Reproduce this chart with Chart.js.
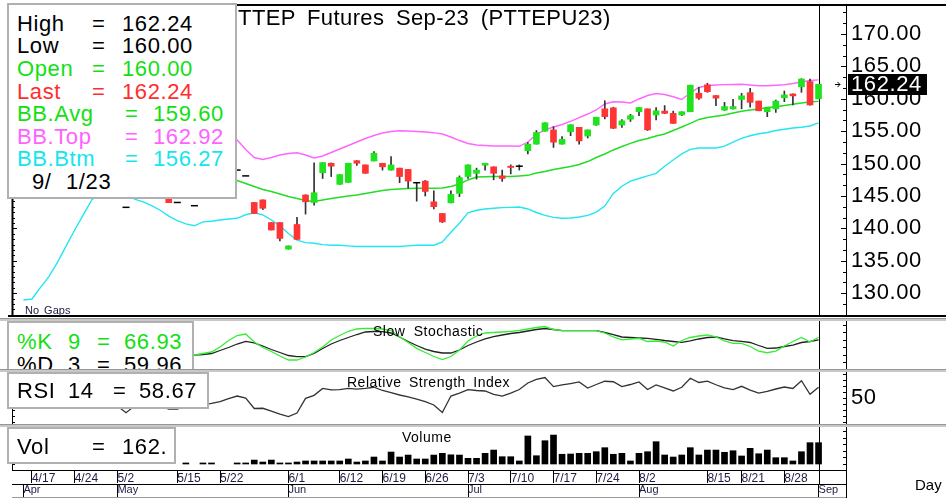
<!DOCTYPE html>
<html>
<head>
<meta charset="utf-8">
<script src="https://cdn.jsdelivr.net/npm/chart.js@4.4.1/dist/chart.umd.min.js"></script>
<style>
html,body{margin:0;padding:0;background:#fff;}
#root{position:relative;width:946px;height:498px;overflow:hidden;background:#fff;font-family:Arial,"Liberation Sans",sans-serif;color:#000;}
#root canvas{position:absolute;left:0;z-index:1;}
.ln{position:absolute;z-index:2;background:#000;}
.sep{position:absolute;left:0;width:946px;height:3px;z-index:2;background:#c8c8c8;border-top:1px solid #969696;box-sizing:border-box;}
.ttl{position:absolute;z-index:2;white-space:nowrap;}
.box{position:absolute;z-index:4;background:#fff;border:2px solid #b0b0b0;box-sizing:border-box;overflow:hidden;}
.box span{position:absolute;white-space:nowrap;font-size:22px;line-height:24px;letter-spacing:0.6px;}
.g{color:#12e012;} .r{color:#ff2e2e;} .p{color:#ff62ff;} .c{color:#12e6ee;} .k{color:#000;}
</style>
</head>
<body>
<div id="root">
  <canvas id="cMain" width="946" height="318" style="top:0"></canvas>
  <canvas id="cSto" width="946" height="48" style="top:321px"></canvas>
  <canvas id="cRsi" width="946" height="52" style="top:372px"></canvas>
  <canvas id="cVol" width="946" height="71" style="top:427px"></canvas>

  <div class="ln" style="left:8px;top:4px;width:938px;height:2px;"></div>
  <div class="ln" style="left:8px;top:315px;width:938px;height:2px;"></div>
  <div class="sep" style="top:318px;"></div>
  <div class="sep" style="top:369px;"></div>
  <div class="sep" style="top:424px;"></div>
  <div class="ln" style="left:846px;top:470px;width:1px;height:28px;"></div>
  <div class="ln" style="left:12px;top:497px;width:834px;height:1px;background:#9a9a9a;"></div>

  <div class="ttl" style="left:223px;top:6px;font-size:22px;line-height:24px;letter-spacing:0.4px;word-spacing:5px;">PTTEP Futures Sep-23 (PTTEPU23)</div>
  <div class="ttl" style="left:25px;top:304px;font-size:11px;line-height:13px;word-spacing:2px;color:#202040;">No Gaps</div>
  <div class="ttl" style="left:373px;top:323px;font-size:14px;line-height:16px;letter-spacing:0.5px;word-spacing:4px;">Slow Stochastic</div>
  <div class="ttl" style="left:347px;top:374px;font-size:14px;line-height:16px;letter-spacing:0.5px;word-spacing:3px;">Relative Strength Index</div>
  <div class="ttl" style="left:402px;top:429px;font-size:14px;line-height:16px;letter-spacing:0.5px;">Volume</div>
  <div class="ttl" style="left:915px;top:476px;font-size:15px;line-height:17px;">Day</div>

  <div class="box" style="left:7px;top:3px;width:230px;height:196px;">
    <span class="k" style="left:8px;top:6.6px">High</span><span class="k" style="left:83px;top:6.6px">=</span><span class="k" style="left:113px;top:6.6px">162.24</span>
    <span class="k" style="left:8px;top:29px">Low</span><span class="k" style="left:83px;top:29px">=</span><span class="k" style="left:113px;top:29px">160.00</span>
    <span class="g" style="left:8px;top:52.3px">Open</span><span class="g" style="left:83px;top:52.3px">=</span><span class="g" style="left:113px;top:52.3px">160.00</span>
    <span class="r" style="left:8px;top:75px">Last</span><span class="r" style="left:83px;top:75px">=</span><span class="r" style="left:113px;top:75px">162.24</span>
    <span class="g" style="left:8px;top:96.6px">BB.Avg</span><span class="g" style="left:116px;top:96.6px">=</span><span class="g" style="left:144px;top:96.6px">159.60</span>
    <span class="p" style="left:8px;top:120px">BB.Top</span><span class="p" style="left:116px;top:120px">=</span><span class="p" style="left:144px;top:120px">162.92</span>
    <span class="c" style="left:8px;top:141.6px">BB.Btm</span><span class="c" style="left:116px;top:141.6px">=</span><span class="c" style="left:144px;top:141.6px">156.27</span>
    <span class="k" style="left:23px;top:165px">9/</span><span class="k" style="left:57px;top:165px">1/23</span>
  </div>
  <div class="box" style="left:7px;top:321px;width:187px;height:48px;border-bottom:none;">
    <span class="g" style="left:8px;top:7px">%K</span><span class="g" style="left:59px;top:7px">9</span><span class="g" style="left:88px;top:7px">=</span><span class="g" style="left:115px;top:7px">66.93</span>
    <span class="k" style="left:8px;top:30.3px">%D</span><span class="k" style="left:59px;top:30.3px">3</span><span class="k" style="left:88px;top:30.3px">=</span><span class="k" style="left:115px;top:30.3px">59.96</span>
  </div>
  <div class="box" style="left:7px;top:372px;width:202px;height:37px;">
    <span class="k" style="left:8px;top:5.3px">RSI</span><span class="k" style="left:59px;top:5.3px">14</span><span class="k" style="left:104px;top:5.3px">=</span><span class="k" style="left:130px;top:5.3px">58.67</span>
  </div>
  <div class="box" style="left:7px;top:427px;width:169px;height:37px;">
    <span class="k" style="left:8px;top:6px">Vol</span><span class="k" style="left:83px;top:6px">=</span><span class="k" style="left:113px;top:6px">162.</span>
  </div>
</div>

<script>
// ---------------- DATA ----------------
const dates = ['4/12','4/17','4/18','4/19','4/20','4/21','4/24','4/25','4/26','4/27','4/28',
  '5/2','5/3','5/8','5/9','5/10','5/11','5/12','5/15','5/16','5/17','5/18','5/19','5/22','5/23','5/24','5/25','5/26','5/29','5/30','5/31',
  '6/1','6/2','6/6','6/7','6/8','6/9','6/12','6/13','6/14','6/15','6/16','6/19','6/20','6/21','6/22','6/23','6/26','6/27','6/28','6/29','6/30',
  '7/3','7/4','7/5','7/6','7/7','7/10','7/11','7/12','7/13','7/14','7/17','7/18','7/19','7/20','7/21','7/24','7/25','7/26','7/27','7/31',
  '8/2','8/3','8/4','8/7','8/8','8/9','8/10','8/11','8/15','8/16','8/17','8/18','8/21','8/22','8/23','8/24','8/25','8/28','8/29','8/30','8/31',
  '9/1'];

const openP = [null,null,null,null,null,null,null,null,null,null,null,null,
  143.25,null,null,null,null,145.0,144.0,null,143.5,null,null,null,null,
  149.0,148.1,144.0,144.4,140.9,140.9,136.8,140.6,145.15,144.0,
  148.6,150.05,146.8,147.1,150.45,149.8,150.4,150.05,149.0,149.3,
  149.1,147.05,147.3,144.1,142.3,143.95,145.4,148.0,148.5,149.75,
  149.5,148.1,149.6,149.6,152.0,153.0,155.0,155.2,153.0,154.9,
  155.6,154.25,155.95,158.45,158.6,155.95,156.85,158.0,158.45,157.5,
  158.1,157.75,157.5,158.0,160.85,162.15,160.5,158.25,158.45,159.9,
  160.95,159.65,158.0,158.45,160.15,160.75,161.85,162.65,160.0];
const highP = [null,null,null,null,null,null,null,null,null,null,null,null,
  143.25,null,null,null,null,145.0,144.0,null,143.5,null,null,null,null,
  149.0,148.1,144.0,144.4,140.9,140.9,137.3,141.7,145.2,150.1,
  150.15,150.1,148.3,150.05,150.45,149.8,151.85,150.05,151.1,149.3,
  149.1,147.1,147.4,145.8,142.3,145.8,148.1,149.8,149.3,150.05,
  149.5,149.0,149.8,149.8,153.25,155.1,156.3,155.7,154.15,156.0,
  155.6,155.2,157.15,159.7,158.7,156.8,157.6,158.65,158.45,158.65,
  158.95,158.1,158.0,162.1,161.75,162.4,160.5,159.45,159.9,160.85,
  161.6,159.65,158.65,159.8,161.2,160.75,163.1,163.05,162.24];
const lowP = [null,null,null,null,null,null,null,null,null,null,null,null,
  143.25,null,null,null,null,143.97,144.0,null,143.5,null,null,null,null,
  149.0,148.1,142.3,142.9,139.75,138.05,136.8,138.3,142.2,143.6,
  147.7,148.0,146.8,147.1,149.7,148.5,150.4,149.0,149.0,147.05,
  146.2,144.2,145.0,143.0,140.9,143.95,144.9,147.7,147.6,149.0,
  147.5,147.25,148.4,149.0,151.5,153.0,155.0,152.5,153.0,154.3,
  153.0,153.95,155.9,156.9,155.4,155.6,156.5,157.4,155.1,156.75,
  157.7,156.2,157.4,158.0,159.9,161.0,158.95,158.2,158.4,158.45,
  158.7,158.15,157.25,157.9,159.55,159.05,161.0,159.0,160.0];
const closeP = [null,null,null,null,null,null,null,null,null,null,null,null,
  143.25,null,null,null,null,143.97,144.0,null,143.5,null,null,null,null,
  149.0,148.1,142.3,143.1,139.75,138.45,137.3,138.3,144.1,145.5,
  150.15,149.6,148.3,150.05,150.05,148.5,151.6,149.5,149.8,148.0,
  147.3,147.05,145.7,143.35,141.0,145.25,147.85,149.8,149.0,150.05,
  148.5,147.7,149.4,149.6,153.0,154.8,156.3,153.3,153.75,156.0,
  153.5,155.2,157.15,157.25,155.45,156.6,157.4,158.65,155.2,158.15,
  157.75,156.2,158.0,162.1,160.1,161.1,160.1,158.8,158.8,160.45,
  159.45,158.15,158.65,159.65,160.6,160.45,163.05,159.05,162.24];

const bbTop = [171.05,171.9,171.1,170.0,168.2,165.9,163.45,160.9,158.2,156.5,
  155.2,154.4,154.2,155.1,155.1,155.3,155.6,156.1,156.4,156.5,156.4,155.4,154.9,154.3,153.9,
  153.64,152.18,150.94,150.63,150.94,151.33,151.56,151.68,151.33,150.86,
  151.17,151.71,152.25,152.79,153.33,153.87,154.34,154.72,154.95,155.06,
  155.03,154.95,154.88,154.77,154.57,154.1,153.56,153.1,152.87,152.79,
  152.72,152.72,152.72,152.67,153.33,154.49,155.19,155.65,156.03,156.5,
  157.11,157.65,158.27,159.2,159.55,159.51,159.35,159.97,160.51,160.82,
  160.66,160.32,159.89,160.9,161.74,162.05,162.13,162.18,162.21,162.24,
  162.13,162.01,162.02,162.1,162.16,162.36,162.59,162.82,162.92];
const bbAvg = [150.0,150.5,151.0,151.3,151.5,151.6,151.6,151.5,151.3,151.0,
  150.7,150.4,150.0,149.8,149.6,149.4,149.2,149.0,148.8,148.6,148.4,148.2,148.0,147.8,147.6,
  147.39,146.93,146.47,146.0,145.69,145.31,144.92,144.61,144.31,144.15,
  144.38,144.61,144.8,145.0,145.15,145.39,145.62,145.85,146.0,146.08,
  146.16,146.19,146.19,146.19,146.23,146.47,146.85,147.47,147.93,147.98,
  148.01,148.01,148.01,148.09,148.19,148.55,148.78,149.09,149.32,149.55,
  149.86,150.32,150.94,151.48,152.1,152.64,153.13,153.56,153.87,154.26,
  154.57,155.11,155.65,156.19,156.81,157.11,157.3,157.5,157.81,158.07,
  158.27,158.43,158.66,158.77,158.97,159.15,159.35,159.51,159.6];
const bbBtm = [128.95,129.1,130.9,132.6,134.8,137.3,139.75,142.1,144.4,145.5,
  146.2,146.4,145.8,144.5,144.1,143.5,142.8,141.9,141.2,140.7,
  140.4,141.0,141.1,141.3,141.45,141.56,142.1,142.4,142.1,141.3,
  140.4,139.2,138.2,137.8,137.7,137.5,137.4,137.4,137.3,137.2,
  137.2,137.2,137.2,137.2,137.2,137.3,137.4,137.4,137.4,137.9,
  139.4,140.8,142.4,142.8,143.0,143.1,143.2,143.25,143.3,143.0,
  142.45,142.0,141.7,141.56,141.6,141.75,142.0,142.5,143.45,145.4,
  146.5,147.3,147.7,148.1,148.5,149.6,150.55,151.5,152.2,152.4,
  152.4,152.4,152.7,153.3,153.9,154.3,154.6,154.8,155.1,155.3,
  155.5,155.6,155.8,156.27];

const stochK = [null,null,null,null,null,null,null,null,null,null,null,null,null,null,null,null,null,null,null,
  18.5,18.9,23.0,27.0,40.5,58.1,71.6,75.7,54.1,39.2,28.4,16.2,5.4,5.4,13.5,25.7,40.5,59.5,71.6,83.0,
  89.2,91.1,90.5,89.2,85.1,68.4,52.7,37.0,25.7,14.9,6.8,14.9,32.4,56.8,70.3,78.4,79.7,81.1,83.0,85.1,
  89.2,93.2,95.9,87.8,85.1,84.6,84.6,84.6,84.6,78.4,67.6,60.0,62.2,64.1,55.4,56.8,54.1,43.2,58.1,66.2,
  70.3,73.0,67.6,56.8,50.5,50.5,41.9,29.7,25.1,29.7,43.2,55.4,66.2,54.1,66.93];
const stochD = [null,null,null,null,null,null,null,null,null,null,null,null,null,null,null,null,null,null,null,
  18.5,18.9,20.3,23.0,31.1,39.2,48.6,55.9,51.4,43.2,33.8,25.7,17.6,14.3,14.3,23.0,36.5,48.6,58.1,66.2,
  74.3,81.1,82.4,81.9,78.4,67.6,55.4,44.6,35.1,28.4,24.3,24.3,32.4,44.6,54.1,62.2,68.4,73.0,77.0,79.7,
  83.8,87.8,90.5,87.8,84.6,84.6,84.6,84.6,84.6,79.7,74.3,67.6,66.2,64.9,64.1,61.4,58.1,55.4,53.2,56.8,
  62.2,66.2,67.6,62.2,57.6,55.9,52.7,44.6,37.0,37.8,41.9,45.9,52.7,55.4,59.96];
const rsi = [null,null,null,null,null,null,null,null,null,null,null,
  43,37.5,43,44,44.5,43,40.6,40.6,43,42,44,45.2,46.8,49.3,51.4,49.75,41.0,41.2,38.9,36.4,
  34.3,37.25,49.5,52.0,57.7,56.6,56.8,57.8,57.1,57.7,58.7,56.0,54.2,52.25,50.6,48.9,46.8,43.9,37.7,51.4,
  53.9,56.8,56.0,55.6,52.7,51.4,53.9,56.8,62.25,65.2,66.8,59.2,60.6,61.8,63.1,58.1,61.0,63.7,63.3,59.2,
  61.0,63.1,56.8,60.6,58.1,55.6,58.7,66.2,62.7,63.75,60.8,58.1,56.8,59.5,56.4,53.9,55.2,57.25,58.9,57.7,
  64.2,52.8,58.67];
const volume = [null,null,null,null,null,null,null,null,null,null,null,null,null,null,null,null,null,null,null,
  80,null,80,80,null,null,80,80,300,150,300,80,80,150,230,230,230,230,230,380,150,230,530,230,910,530,680,
  380,380,680,810,700,680,430,430,810,1060,555,555,230,2130,630,1770,2200,740,760,810,810,935,1240,740,810,
  230,810,935,1695,685,530,685,1240,685,1060,1060,890,1010,610,1190,780,1060,480,480,230,935,1620,1620];

const priceTicks = [130,135,140,145,150,155,160,165,170];
const dateTickLabels = ['4/17','4/24','5/2','5/15','5/22','6/1','6/12','6/19','6/26','7/3','7/10','7/17','7/24','8/2','8/15','8/21','8/28'];
const monthLabels = ['Apr','May','Jun','Jul','Aug','Sep'];
const monthStartDates = ['4/12','5/2','6/1','7/3','8/2','9/1'];
const cursorDate = '9/1';

// ---------------- CHARTS ----------------
Chart.defaults.font.family = 'Arial, "Liberation Sans", sans-serif';
const XMIN = -1.333, XMAX = 96.21;
const GREEN = '#1fe31f', RED = '#ff3434', PINK = '#ff66ff', AVG = '#22dd22', CYAN = '#22e6f0';
const dateTickIdx = dateTickLabels.map(d => dates.indexOf(d));
const monthIdx = monthStartDates.map(d => dates.indexOf(d));
const cursorIdx = dates.indexOf(cursorDate);
const pts = arr => arr.map((v, i) => ({x: i, y: v}));

const frameTicks = {
  id: 'frameTicks',
  afterDatasetsDraw(chart, args, o) {
    const {ctx, chartArea: a} = chart; const ys = chart.scales.y;
    ctx.save(); ctx.strokeStyle = '#000';
    ctx.lineWidth = o.leftWidth || 1;
    ctx.beginPath(); ctx.moveTo(a.left + 0.5, a.top); ctx.lineTo(a.left + 0.5, a.bottom); ctx.stroke();
    ctx.lineWidth = 1;
    const draw = (spec, side) => {
      if (!spec) return;
      const start = Math.ceil(ys.min / spec.step - 1e-9);
      for (let k = start; k * spec.step <= ys.max; k++) {
        const v = k * spec.step;
        const y = Math.round(ys.getPixelForValue(v)) + 0.5;
        const major = spec.major && Math.abs(v / spec.major - Math.round(v / spec.major)) < 1e-6;
        const len = major ? spec.majorLen : spec.len;
        ctx.beginPath();
        if (side === 'left') { ctx.moveTo(a.left, y); ctx.lineTo(a.left + len, y); }
        else { ctx.moveTo(a.right, y); ctx.lineTo(a.right - len, y); }
        ctx.stroke();
      }
    };
    draw(o.left, 'left'); draw(o.right, 'right');
    ctx.restore();
  }
};
const cursor = {
  id: 'cursor',
  beforeDatasetsDraw(chart, args, o) {
    const {ctx, chartArea: a} = chart;
    const x = Math.round(chart.scales.x.getPixelForValue(o.index)) + 0.5;
    ctx.save(); ctx.strokeStyle = '#000'; ctx.lineWidth = 1;
    ctx.beginPath(); ctx.moveTo(x, a.top); ctx.lineTo(x, a.bottom + (o.extra || 0)); ctx.stroke();
    ctx.restore();
  }
};
const spacing = { id: 'spacing', beforeDraw(chart, args, o) { chart.ctx.letterSpacing = o.value || '0px'; } };
const lastPrice = {
  id: 'lastPrice',
  afterDraw(chart, args, o) {
    const {ctx, chartArea: a} = chart;
    const y = Math.round(chart.scales.y.getPixelForValue(o.value));
    ctx.save();
    ctx.strokeStyle = '#000'; ctx.lineWidth = 1;
    ctx.beginPath();
    ctx.moveTo(a.right - 11, y + 0.5); ctx.lineTo(a.right - 6, y + 0.5);
    ctx.moveTo(a.right - 8.5, y - 2); ctx.lineTo(a.right - 6, y + 0.5); ctx.lineTo(a.right - 8.5, y + 3);
    ctx.stroke();
    ctx.fillStyle = '#000'; ctx.fillRect(a.right + 2, y - 10, 79, 21);
    ctx.fillStyle = '#fff'; ctx.font = '22px Arial, "Liberation Sans", sans-serif';
    ctx.textBaseline = 'middle'; ctx.textAlign = 'left';
    ctx.fillText(o.label, a.right + 5, y + 1);
    ctx.restore();
  }
};

function xHidden() {
  return {type: 'linear', min: XMIN, max: XMAX, display: false, offset: false, bounds: 'data', grid: {offset: false}};
}
function yAxis(min, max, extra) {
  return Object.assign({
    position: 'right', min, max, bounds: 'data',
    grid: {display: false, drawTicks: false},
    border: {display: true, color: '#000', width: 1},
    ticks: {display: false},
    afterFit(s) { s.width = 100; s.paddingTop = 0; s.paddingBottom = 0; }
  }, extra || {});
}
function base(extra) {
  return Object.assign({responsive: false, animation: false, devicePixelRatio: 1, events: []}, extra);
}
function lay(l, t, b) { return {autoPadding: false, padding: {left: l, top: t, bottom: b, right: 0}}; }
const noPlug = {legend: {display: false}, tooltip: {enabled: false}};

// main price chart
const wickData = [], bodyData = [], bodyColors = [], flatData = [];
for (let i = 0; i < dates.length; i++) {
  if (openP[i] == null) continue;
  if (highP[i] > lowP[i]) wickData.push({x: i, y: [lowP[i], highP[i]]});
  if (openP[i] === closeP[i]) flatData.push({x: i, y: closeP[i]});
  else { bodyData.push({x: i, y: [openP[i], closeP[i]]}); bodyColors.push(closeP[i] > openP[i] ? GREEN : RED); }
}
const lastIdx = dates.length - 1;
new Chart(document.getElementById('cMain'), {
  type: 'bar',
  data: {datasets: [
    {type: 'line', data: pts(bbTop), borderColor: PINK, borderWidth: 1.4, pointRadius: 0, tension: 0, order: 5},
    {type: 'line', data: pts(bbAvg), borderColor: AVG, borderWidth: 1.4, pointRadius: 0, tension: 0, order: 5},
    {type: 'line', data: pts(bbBtm), borderColor: CYAN, borderWidth: 1.4, pointRadius: 0, tension: 0, order: 5},
    {type: 'bar', data: wickData, backgroundColor: '#333', barThickness: 1, grouped: false, order: 3},
    {type: 'bar', data: bodyData, backgroundColor: bodyColors, barThickness: 6, grouped: false, order: 2},
    {type: 'line', data: flatData, showLine: false, pointStyle: 'line', pointRadius: 3.5,
     pointBorderColor: '#000', pointBorderWidth: 1.5, borderColor: '#000', order: 1}
  ]},
  options: base({
    layout: lay(12, 6, 2),
    scales: {
      x: xHidden(),
      y: yAxis(126.48, 174.32, {
        afterBuildTicks(s) { s.ticks = priceTicks.map(v => ({value: v})); },
        ticks: {display: true, autoSkip: false, padding: 5, color: '#000', font: {size: 22},
                callback: v => Number(v).toFixed(2)}
      })
    },
    plugins: Object.assign({}, noPlug, {
      frameTicks: {leftWidth: 2, left: {step: 5 / 6, major: 5, len: 3, majorLen: 5}, right: {step: 5 / 3, major: 5, len: 3, majorLen: 5}},
      cursor: {index: cursorIdx},
      spacing: {value: '0.6px'},
      lastPrice: {value: closeP[lastIdx], label: closeP[lastIdx].toFixed(2)}
    })
  }),
  plugins: [spacing, frameTicks, cursor, lastPrice]
});

// stochastic
new Chart(document.getElementById('cSto'), {
  type: 'line',
  data: {datasets: [
    {data: pts(stochK), borderColor: '#33ee33', borderWidth: 1.3, pointRadius: 0, tension: 0},
    {data: pts(stochD), borderColor: '#222', borderWidth: 1.3, pointRadius: 0, tension: 0}
  ]},
  options: base({
    layout: lay(12, 0, 0),
    scales: {x: xHidden(), y: yAxis(-18.9, 110.8)},
    plugins: Object.assign({}, noPlug, {
      frameTicks: {left: {step: 20, len: 3}, right: {step: 20, len: 3}},
      cursor: {index: cursorIdx}
    })
  }),
  plugins: [frameTicks, cursor]
});

// RSI
new Chart(document.getElementById('cRsi'), {
  type: 'line',
  data: {datasets: [
    {data: pts(rsi), borderColor: '#333', borderWidth: 1.3, pointRadius: 0, tension: 0}
  ]},
  options: base({
    layout: lay(12, 0, 0),
    scales: {
      x: xHidden(),
      y: yAxis(28.08, 71.42, {
        afterBuildTicks(s) { s.ticks = [{value: 50}]; },
        ticks: {display: true, autoSkip: false, padding: 5, color: '#000', font: {size: 22}, callback: v => String(v)}
      })
    },
    plugins: Object.assign({}, noPlug, {
      frameTicks: {left: {step: 5, len: 3}, right: {step: 5, len: 3}},
      cursor: {index: cursorIdx},
      spacing: {value: '0.6px'}
    })
  }),
  plugins: [spacing, frameTicks, cursor]
});

// volume + date axes
new Chart(document.getElementById('cVol'), {
  type: 'bar',
  data: {datasets: [
    {data: pts(volume).filter(p => p.y != null), backgroundColor: '#000', barThickness: 6, grouped: false}
  ]},
  options: base({
    layout: lay(12, 0, 0),
    scales: {
      x: {
        type: 'linear', position: 'bottom', min: XMIN, max: XMAX, offset: false, bounds: 'data', weight: 0,
        afterBuildTicks(s) { s.ticks = dateTickIdx.map(v => ({value: v})); },
        afterFit(s) { s.height = 14; s.paddingLeft = 0; s.paddingRight = 0; },
        grid: {display: true, drawOnChartArea: false, drawTicks: true, tickLength: 13, color: '#000', lineWidth: 1, offset: false},
        border: {display: true, color: '#000', width: 1},
        ticks: {autoSkip: false, maxRotation: 0, minRotation: 0, align: 'start', padding: -11.6,
                color: '#1c1c44', font: {size: 12}, callback: v => dates[v]}
      },
      x2: {
        type: 'linear', position: 'bottom', min: XMIN, max: XMAX, offset: false, bounds: 'data', weight: 1,
        afterBuildTicks(s) { s.ticks = monthIdx.map(v => ({value: v})); },
        afterFit(s) { s.height = 14; s.paddingLeft = 0; s.paddingRight = 0; },
        grid: {display: true, drawOnChartArea: false, drawTicks: true, tickLength: 13, color: '#000', lineWidth: 1, offset: false},
        border: {display: true, color: '#000', width: 1},
        ticks: {autoSkip: false, maxRotation: 0, minRotation: 0, align: 'start', padding: -13.2,
                color: '#1c1c44', font: {size: 11}, callback: v => monthLabels[monthIdx.indexOf(v)]}
      },
      y: yAxis(-456, 2812)
    },
    plugins: Object.assign({}, noPlug, {
      frameTicks: {left: {step: 500, len: 3}, right: {step: 500, len: 3}},
      cursor: {index: cursorIdx, extra: 14}
    })
  }),
  plugins: [frameTicks, cursor]
});
</script>
</body>
</html>
